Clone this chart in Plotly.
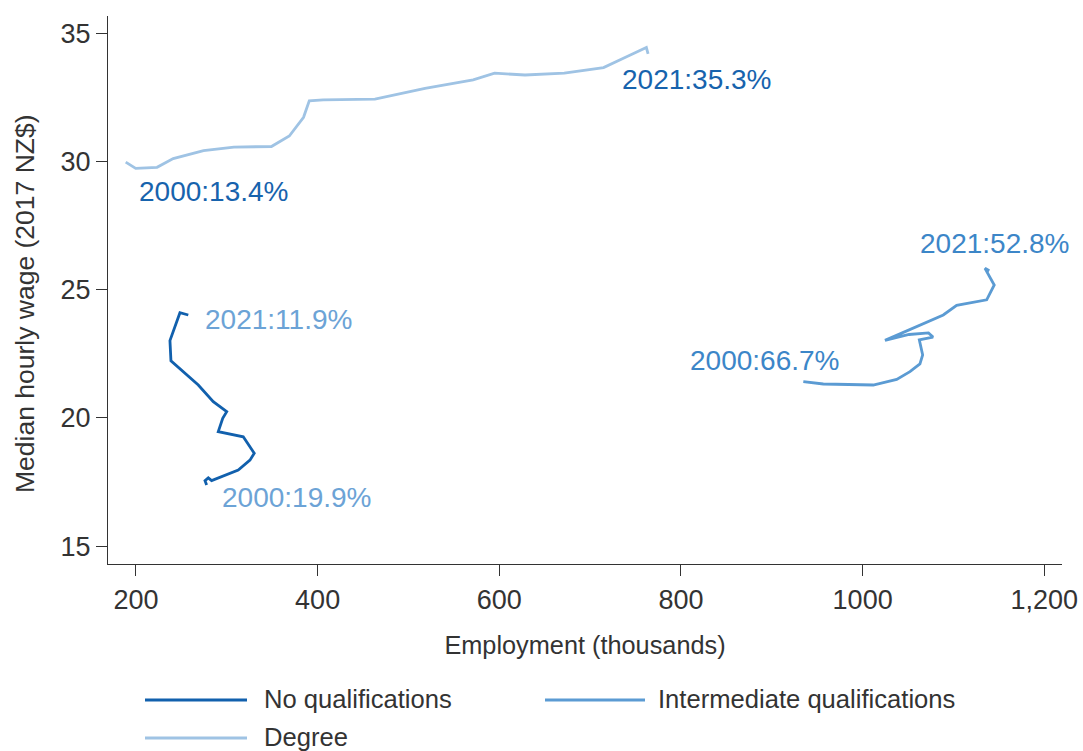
import plotly.graph_objects as go

# ---- data ----
series_names = ["No qualifications", "Intermediate qualifications", "Degree"]

noqual_emp = [277.8, 276.0, 279.6, 283.3, 312.6, 325.5, 330.2, 318.1, 290.6, 295.5,
              299.9, 285.1, 268.6, 248.4, 238.5, 237.4, 248.4, 257.6]
noqual_wage = [17.38, 17.55, 17.66, 17.55, 17.96, 18.35, 18.62, 19.26, 19.46, 19.98,
               20.24, 20.63, 21.28, 21.93, 22.22, 23.01, 24.10, 24.01]

inter_emp = [934.7, 956.7, 1011.7, 1037.5, 1052.1, 1063.1, 1066.1, 1062.4, 1077.5, 1072.5,
             1051.1, 1024.6, 1088.8, 1103.5, 1136.6, 1144.9, 1134.7, 1139.5]
inter_wage = [21.41, 21.32, 21.28, 21.50, 21.80, 22.10, 22.45, 23.04, 23.15, 23.31,
              23.25, 23.02, 24.01, 24.39, 24.60, 25.18, 25.83, 25.74]

degree_emp = [188.7, 199.7, 223.2, 241.0, 274.4, 307.8, 349.1, 368.8, 384.5, 390.8,
              406.1, 463.1, 518.2, 571.2, 594.8, 628.3, 671.5, 714.8, 738.4, 761.9, 763.8]
degree_wage = [29.97, 29.73, 29.77, 30.11, 30.42, 30.56, 30.58, 30.99, 31.72, 32.36,
               32.40, 32.43, 32.85, 33.18, 33.44, 33.37, 33.44, 33.66, 34.05, 34.44, 34.19]

# end-point labels: text, x, y
label_texts = ["2000:19.9%", "2021:11.9%", "2000:66.7%", "2021:52.8%", "2000:13.4%", "2021:35.3%"]
label_x = [292.5, 273.8, 807.7, 1061.0, 201.1, 732.9]
label_y = [16.91, 23.82, 22.22, 26.78, 28.81, 33.18]

x_tickvals = [200, 400, 600, 800, 1000, 1200]
x_ticktext = ["200", "400", "600", "800", "1000", "1,200"]
y_tickvals = [15, 20, 25, 30, 35]

x_title = "Employment (thousands)"
y_title = "Median hourly wage (2017 NZ$)"

# ---- styles ----
line_colors = ["#1160ad", "#5b9bd3", "#9fc3e4"]
label_colors = ["#6ca3d6", "#6ca3d6", "#3c86c8", "#3c86c8", "#1763ad", "#1763ad"]
TXT = "#333333"
FONT = "Liberation Sans, Arial, sans-serif"

fig = go.Figure()
for name, xs, ys, col in zip(series_names,
                             [noqual_emp, inter_emp, degree_emp],
                             [noqual_wage, inter_wage, degree_wage],
                             line_colors):
    fig.add_trace(go.Scatter(x=xs, y=ys, mode="lines", name=name,
                             line=dict(color=col, width=2.8), showlegend=False))

for t, lx, ly, c in zip(label_texts, label_x, label_y, label_colors):
    fig.add_annotation(x=lx, y=ly, xref="x", yref="y", text=t, showarrow=False,
                       xanchor="left", yanchor="middle",
                       font=dict(size=28, color=c, family=FONT))

# ---- layout geometry (pixels) ----
W, H = 1083, 751
ml, mr, mt, mb = 108, 21, 16, 187
pw, ph = W - ml - mr, H - mt - mb


def px2paper_x(px):
    return (px - ml) / pw


def px2paper_y(py):
    return (H - mb - py) / ph


# ---- custom legend (long line keys as in the reference) ----
legend_pos = [(145, 247, 262, 700), (545, 645, 656, 700), (145, 247, 262, 738)]
for (x0, x1, xt, yy), name, col in zip(legend_pos, series_names, line_colors):
    fig.add_shape(type="line", xref="paper", yref="paper",
                  x0=px2paper_x(x0), x1=px2paper_x(x1),
                  y0=px2paper_y(yy), y1=px2paper_y(yy),
                  line=dict(color=col, width=2.8))
    fig.add_annotation(xref="paper", yref="paper", x=px2paper_x(xt),
                       y=px2paper_y(yy - 1), text=name, showarrow=False,
                       xanchor="left", yanchor="middle",
                       font=dict(size=25.6, color=TXT, family=FONT))

# y-axis title placed as in the reference (slightly below plot centre)
fig.add_annotation(xref="paper", yref="paper", x=px2paper_x(25), y=px2paper_y(304),
                   text=y_title, textangle=-90, showarrow=False,
                   xanchor="center", yanchor="middle",
                   font=dict(size=26.5, color=TXT, family=FONT))

fig.update_layout(
    width=W, height=H,
    margin=dict(l=ml, r=mr, t=mt, b=mb, pad=0),
    paper_bgcolor="white", plot_bgcolor="white",
    font=dict(family=FONT, color=TXT),
    showlegend=False,
)
fig.update_xaxes(range=[169.2, 1219.5], tickvals=x_tickvals, ticktext=x_ticktext,
                 automargin=False,
                 showgrid=False, zeroline=False, showline=True, linecolor=TXT, linewidth=1.3,
                 ticks="outside", ticklen=11, tickcolor=TXT, tickwidth=1.2,
                 tickfont=dict(size=27, color=TXT, family=FONT),
                 title=dict(text=x_title, font=dict(size=25.3, color=TXT, family=FONT),
                            standoff=22))
fig.update_yaxes(range=[14.30, 35.67], tickvals=y_tickvals,
                 automargin=False,
                 showgrid=False, zeroline=False, showline=True, linecolor=TXT, linewidth=1.3,
                 ticks="outside", ticklen=11, tickcolor=TXT, tickwidth=1.2,
                 tickfont=dict(size=27, color=TXT, family=FONT))

fig.write_html("out.html", config={"displayModeBar": False},
               post_script="document.body.style.margin='0';document.body.style.overflow='hidden';")
